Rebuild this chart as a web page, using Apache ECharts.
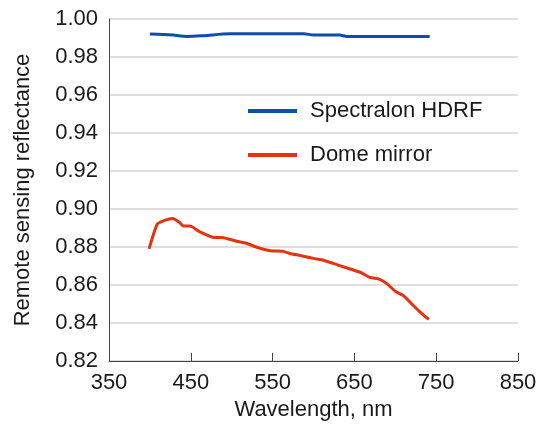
<!DOCTYPE html>
<html>
<head>
<meta charset="utf-8">
<script src="https://cdn.jsdelivr.net/npm/echarts@6/dist/echarts.min.js"></script>
<style>html,body{margin:0;padding:0;background:#fff}#c{width:539px;height:427px}</style>
</head>
<body>
<div id="c"></div>
<script>
const xTicks = [350, 450, 550, 650, 750, 850];
const yTicks = [0.82, 0.84, 0.86, 0.88, 0.90, 0.92, 0.94, 0.96, 0.98, 1.00];
const seriesNames = ['Spectralon HDRF', 'Dome mirror'];
const spectralonWl = [400, 428, 445, 465, 498, 588, 600, 632, 641, 742];
const spectralonR = [0.9921, 0.9916, 0.9908, 0.9912, 0.9922, 0.9922, 0.9916, 0.9916, 0.9908, 0.9908];
const mirrorWl = [399, 409, 418, 428, 436, 441, 449, 461, 479, 488, 506, 518, 530, 547, 563, 571, 584, 600, 610, 624, 636, 657, 669, 681, 690, 700, 710, 722, 732, 741];
const mirrorR = [0.879, 0.892, 0.894, 0.895, 0.893, 0.891, 0.891, 0.888, 0.885, 0.885, 0.883, 0.882, 0.880, 0.878, 0.8777, 0.8766, 0.8755, 0.874, 0.8733, 0.8714, 0.8696, 0.8667, 0.864, 0.863, 0.8606, 0.8567, 0.8544, 0.8492, 0.8451, 0.8419];

const zip = (a, b) => a.map((v, i) => [v, b[i]]);
const font = 'Liberation Sans, Arial, sans-serif';
const chart = echarts.init(document.getElementById('c'));
chart.setOption({
  animation: false,
  textStyle: { fontFamily: font },
  grid: { left: 109, right: 21, top: 19, bottom: 66, containLabel: false, outerBoundsMode: 'none' },
  legend: {
    orient: 'vertical', left: 248, top: 100, padding: 0, itemWidth: 49, itemHeight: 4, itemGap: 22, icon: 'rect',
    textStyle: { fontSize: 22, color: '#1a1a1a', fontFamily: font, padding: [0, 0, 0, 8] },
    data: seriesNames
  },
  xAxis: {
    type: 'value', min: 350, max: 850,
    name: 'Wavelength, nm', nameLocation: 'middle', nameGap: 38,
    nameTextStyle: { fontSize: 22, color: '#1a1a1a' },
    axisLine: { lineStyle: { color: '#444', width: 1 } },
    axisTick: { show: true, inside: true, length: 8, customValues: xTicks, lineStyle: { color: '#444' } },
    axisLabel: { customValues: xTicks, fontSize: 22, color: '#1a1a1a', margin: 11 },
    splitLine: { show: false }
  },
  yAxis: {
    type: 'value', min: 0.82, max: 1.00, interval: 0.02,
    name: 'Remote sensing reflectance', nameLocation: 'middle', nameGap: 75,
    nameTextStyle: { fontSize: 22, color: '#1a1a1a' },
    axisLine: { show: true, lineStyle: { color: '#444', width: 1 } },
    axisTick: { show: false },
    axisLabel: { fontSize: 22, color: '#1a1a1a', margin: 11, formatter: v => v.toFixed(2) },
    splitLine: { show: true, lineStyle: { color: '#d4d4d4', width: 1.5 } }
  },
  series: [
    { name: seriesNames[0], type: 'line', data: zip(spectralonWl, spectralonR), symbol: 'none', smooth: 0.3,
      lineStyle: { color: '#0d4eaa', width: 3 }, itemStyle: { color: '#0d4eaa' } },
    { name: seriesNames[1], type: 'line', data: zip(mirrorWl, mirrorR), symbol: 'none', smooth: 0.2,
      lineStyle: { color: '#e5330f', width: 3 }, itemStyle: { color: '#e5330f' } }
  ]
});
</script>
</body>
</html>
